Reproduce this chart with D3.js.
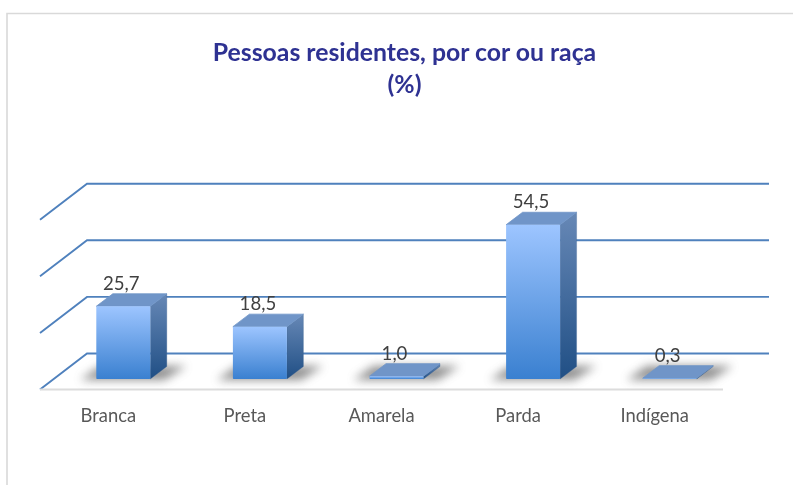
<!DOCTYPE html>
<html><head><meta charset="utf-8">
<script src="https://cdn.jsdelivr.net/npm/d3@7"></script>
<style>html,body{margin:0;padding:0;background:#fff}svg{display:block}text{font-family:Lato,"Open Sans",sans-serif}</style>
</head><body><div id="c"></div>
<script>
const categories = ["Branca","Preta","Amarela","Parda","Indígena"];
const values = [25.7,18.5,1.0,54.5,0.3];
const valueLabels = ["25,7","18,5","1,0","54,5","0,3"];
const gridValues = [0,20,40,60];
const titleLines = ["Pessoas residentes, por cor ou raça","(%)"];

const W=793,H=485;
const svg=d3.select("#c").append("svg").attr("width",W).attr("height",H);
const defs=svg.append("defs");
function grad(id,a,b){const g=defs.append("linearGradient").attr("id",id).attr("x1",0).attr("y1",0).attr("x2",0).attr("y2",1);
 g.append("stop").attr("offset","0%").attr("stop-color",a);g.append("stop").attr("offset","100%").attr("stop-color",b);}
grad("front","#9dc5ff","#3a80d0");grad("side","#6788b6","#204f85");
defs.append("filter").attr("id","blur").attr("x","-40%").attr("y","-120%").attr("width","180%").attr("height","340%")
 .append("feGaussianBlur").attr("stdDeviation",5);
defs.append("filter").attr("id","soft").attr("x","-5%").attr("y","-5%").attr("width","110%").attr("height","110%")
 .append("feGaussianBlur").attr("stdDeviation",0.45);
defs.append("filter").attr("id","softText").attr("x","-5%").attr("y","-20%").attr("width","110%").attr("height","140%")
 .append("feGaussianBlur").attr("stdDeviation",0.35);

// frame
svg.append("path").attr("d",`M7,${H}V13.5H${W}`).attr("fill","none").attr("stroke","#d9d9d9").attr("stroke-width",1.6);

// title
svg.selectAll("text.title").data(titleLines).join("text").attr("class","title")
 .attr("x",404.5).attr("y",(d,i)=>61+i*31.5).attr("text-anchor","middle")
 .attr("font-size",24.8).attr("font-weight",700).attr("fill","#2e3192").attr("filter","url(#softText)").text(d=>d);

// scales
const x=d3.scaleBand().domain(categories).range([40,723]);
const y=d3.scaleLinear().domain([0,60]).range([389.5,219.7]);
const depth={dx:47,dy:-36}, barOff={dx:15,dy:-10.5}, barDepth={dx:16.5,dy:-12.5}, barW=54;

// grid
const grid=svg.append("g").attr("fill","none").attr("filter","url(#soft)");
gridValues.forEach(v=>{
 const yf=y(v), yb=yf+depth.dy;
 const p=`M${x.range()[0]},${yf}L${x.range()[0]+depth.dx},${yb}H769`;
 grid.append("path").attr("d",p).attr("stroke","#4f81bd").attr("stroke-width",1.9);
});
// floor front edge
svg.append("line").attr("x1",40).attr("x2",723).attr("y1",y(0)).attr("y2",y(0)).attr("stroke","#dcdcdc").attr("stroke-width",2);

const bars=categories.map((c,i)=>{
 const xl=x(c)+x.bandwidth()/2+barOff.dx-barW/2;
 return {c,v:values[i],l:valueLabels[i],xl,xr:xl+barW,yb:y(0)+barOff.dy,yt:y(values[i])+barOff.dy};
});
// shadows
svg.append("g").selectAll("path").data(bars).join("path")
 .attr("d",d=>`M${d.xl-16},${d.yb+1}L${d.xl+4},${d.yb-13}H${d.xr+36}L${d.xr+14},${d.yb+1}Z`)
 .attr("fill","#666").attr("opacity",.72).attr("filter","url(#blur)");

const g=svg.append("g").selectAll("g").data(bars).join("g");
// side
g.append("path").attr("d",d=>`M${d.xr},${d.yb}V${d.yt}l${barDepth.dx},${barDepth.dy}V${d.yb+barDepth.dy}Z`)
 .attr("fill","url(#side)").attr("stroke","#3a5f8f").attr("stroke-width",.3).attr("stroke-linejoin","round");
// top
g.append("path").attr("d",d=>`M${d.xl},${d.yt}l${barDepth.dx},${barDepth.dy}H${d.xr+barDepth.dx}L${d.xr},${d.yt}Z`)
 .attr("fill","#7095c8").attr("stroke","#7095c8").attr("stroke-width",.8).attr("stroke-linejoin","round");
// front
g.append("rect").attr("x",d=>d.xl).attr("y",d=>d.yt).attr("width",barW).attr("height",d=>d.yb-d.yt)
 .attr("fill","url(#front)").attr("rx",.8);
// value labels
g.append("text").attr("x",d=>(d.xl+d.xr)/2-2).attr("y",d=>d.yt+barDepth.dy-4).attr("text-anchor","middle")
 .attr("font-size",18.6).attr("fill","#404040").attr("filter","url(#softText)").text(d=>d.l);
// category labels
svg.append("g").selectAll("text").data(categories).join("text")
 .attr("x",d=>x(d)+x.bandwidth()/2).attr("y",422).attr("text-anchor","middle")
 .attr("font-size",18.4).attr("fill","#595959").attr("filter","url(#softText)").text(d=>d);
</script></body></html>
